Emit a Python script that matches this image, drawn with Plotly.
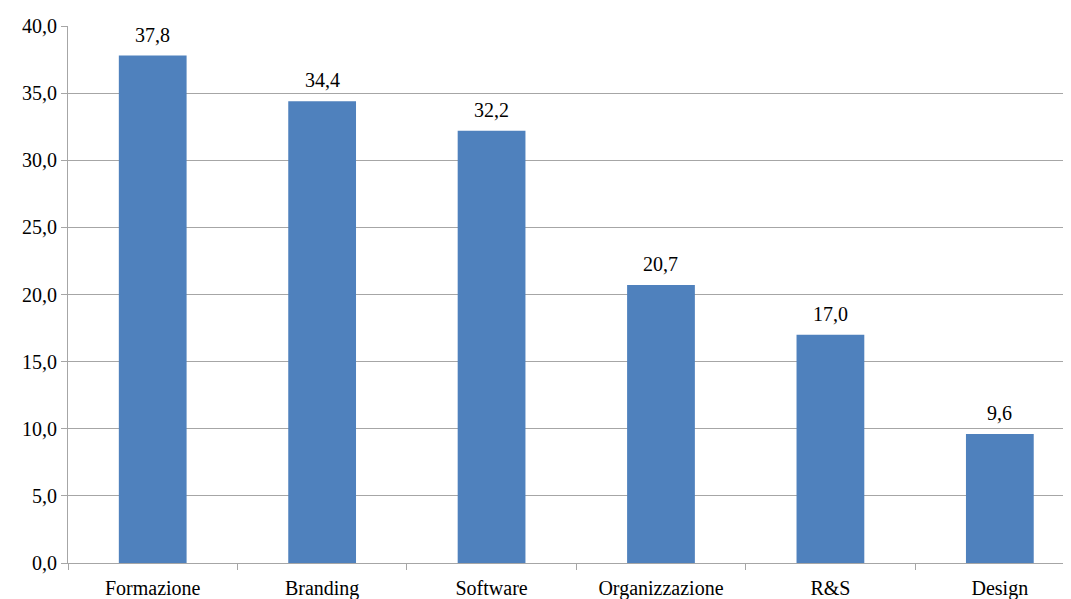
import plotly.graph_objects as go

categories = ["Formazione", "Branding", "Software", "Organizzazione", "R&S", "Design"]
values = [37.8, 34.4, 32.2, 20.7, 17.0, 9.6]
y_ticks = [0, 5, 10, 15, 20, 25, 30, 35, 40]
y_tick_labels = ["0,0", "5,0", "10,0", "15,0", "20,0", "25,0", "30,0", "35,0", "40,0"]
value_labels = [f"{v:.1f}".replace(".", ",") for v in values]

FONT = "Liberation Serif, Times New Roman, serif"
GRID = "#a6a6a6"
FS = 20

fig = go.Figure()
fig.add_trace(go.Bar(
    x=categories, y=values, width=0.4,
    marker=dict(color="#4f81bd", line=dict(width=0)),
    hoverinfo="skip",
))
for c, v, t in zip(categories, values, value_labels):
    fig.add_annotation(x=c, y=v, text=t, showarrow=False, yanchor="bottom",
                       yshift=8, font=dict(family=FONT, size=FS, color="#000"))

fig.update_layout(
    width=1063, height=591,
    margin=dict(l=60, r=0, t=18, b=36, autoexpand=False),
    paper_bgcolor="white", plot_bgcolor="white",
    showlegend=False,
    font=dict(family=FONT, size=FS, color="#000"),
    bargap=0.6,
)
fig.update_xaxes(
    type="category", range=[-0.5, 5.42],
    showline=True, linecolor=GRID, linewidth=1,
    ticks="outside", tickson="boundaries", ticklen=6, tickcolor=GRID,
    ticklabelstandoff=7,
    showgrid=False, tickfont=dict(family=FONT, size=FS, color="#000"),
)
fig.update_yaxes(
    range=[0, 40], tickvals=y_ticks, ticktext=y_tick_labels,
    showline=True, linecolor=GRID, linewidth=1,
    ticks="outside", ticklen=6, tickcolor=GRID,
    showgrid=True, gridcolor=GRID, gridwidth=1, zeroline=False,
    tickfont=dict(family=FONT, size=FS, color="#000"),
)
fig.write_html("out.html")
